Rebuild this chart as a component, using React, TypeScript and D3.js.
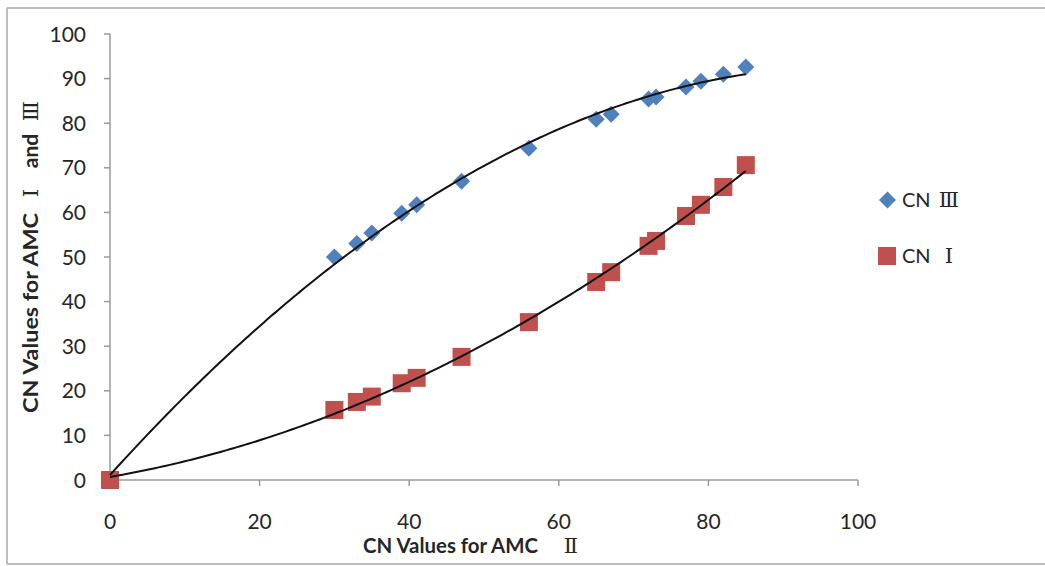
import React from "react";
import * as d3 from "d3";

const amc2 = [0, 30, 33, 35, 39, 41, 47, 56, 65, 67, 72, 73, 77, 79, 82, 85];
const cn3 = [0, 50, 53, 55.4, 59.8, 61.7, 67, 74.4, 80.9, 82, 85.4, 85.9, 88.1, 89.4, 91, 92.6];
const cn1 = [0, 15.7, 17.5, 18.7, 21.7, 22.9, 27.6, 35.4, 44.4, 46.6, 52.5, 53.6, 59.2, 61.7, 65.7, 70.6];
const xTicks = [0, 20, 40, 60, 80, 100];
const yTicks = [0, 10, 20, 30, 40, 50, 60, 70, 80, 90, 100];

function quadFit(xs: number[], ys: number[]) {
  let s0 = 0, s1 = 0, s2 = 0, s3 = 0, s4 = 0, t0 = 0, t1 = 0, t2 = 0;
  xs.forEach((x, i) => {
    const y = ys[i];
    s0 += 1; s1 += x; s2 += x * x; s3 += x ** 3; s4 += x ** 4;
    t0 += y; t1 += x * y; t2 += x * x * y;
  });
  const M = [
    [s0, s1, s2, t0],
    [s1, s2, s3, t1],
    [s2, s3, s4, t2],
  ];
  for (let i = 0; i < 3; i++) {
    for (let k = i + 1; k < 3; k++) {
      const f = M[k][i] / M[i][i];
      for (let j = i; j < 4; j++) M[k][j] -= f * M[i][j];
    }
  }
  const c = M[2][3] / M[2][2];
  const b = (M[1][3] - M[1][2] * c) / M[1][1];
  const a = (M[0][3] - M[0][1] * b - M[0][2] * c) / M[0][0];
  return (x: number) => a + b * x + c * x * x;
}

export default function App() {
  const W = 1045, H = 566;
  const x = d3.scaleLinear().domain([0, 100]).range([110, 858]);
  const y = d3.scaleLinear().domain([0, 100]).range([480, 34]);
  const f3 = quadFit(amc2, cn3);
  const f1 = quadFit(amc2, cn1);
  const xs = d3.range(0, 85.01, 0.5);
  const path3 = d3.line<number>().x((v) => x(v)).y((v) => y(f3(v)))(xs) || "";
  const path1 = d3.line<number>().x((v) => x(v)).y((v) => y(f1(v)))(xs) || "";
  const font = "Lato, 'Open Sans', sans-serif";
  const roman = "'DejaVu Serif', 'Noto Sans CJK SC', serif";
  const blue = "#4F81BD";
  const red = "#C0504D";
  const txt = "#262626";
  const diamond = (cx: number, cy: number, r: number) =>
    `M${cx},${cy - r}L${cx + r},${cy}L${cx},${cy + r}L${cx - r},${cy}Z`;

  return (
    <svg width={W} height={H} style={{ position: "absolute", left: 0, top: 0, background: "#fff" }}>
      <rect width={W} height={H} fill="#fff" />
      {/* frame */}
      <line x1={7} y1={8} x2={W} y2={8} stroke="#bdbdbd" strokeWidth={2} />
      <line x1={7} y1={8} x2={7} y2={564} stroke="#bdbdbd" strokeWidth={2} />
      <line x1={7} y1={564} x2={W} y2={564} stroke="#bdbdbd" strokeWidth={2} />

      {/* axes */}
      <line x1={x(0)} y1={y(0)} x2={x(0)} y2={y(100)} stroke="#9a9a9a" strokeWidth={1.5} />
      <line x1={x(0)} y1={y(0)} x2={x(100)} y2={y(0)} stroke="#9a9a9a" strokeWidth={1.5} />
      {yTicks.map((t) => (
        <g key={"y" + t}>
          <line x1={x(0) - 6} x2={x(0)} y1={y(t)} y2={y(t)} stroke="#9a9a9a" strokeWidth={1.5} />
          <text x={86} y={y(t)} dy="0.36em" textAnchor="end" fontFamily={font} fontSize={21} fill={txt}>
            {t}
          </text>
        </g>
      ))}
      {xTicks.map((t) => (
        <g key={"x" + t}>
          <line x1={x(t)} x2={x(t)} y1={y(0)} y2={y(0) + 6} stroke="#9a9a9a" strokeWidth={1.5} />
          <text x={x(t)} y={529} textAnchor="middle" fontFamily={font} fontSize={21} fill={txt}>
            {t}
          </text>
        </g>
      ))}

      {/* x axis title */}
      <text x={363} y={553} fontFamily={font} fontSize={21} fontWeight="bold" fill={txt} textLength={175} lengthAdjust="spacingAndGlyphs">
        CN Values for AMC
      </text>
      <text x={571} y={553} textAnchor="middle" fontFamily={roman} fontSize={21} fill={txt}>
        Ⅱ
      </text>

      {/* y axis title (rotated) */}
      <g transform="translate(38,0) rotate(-90)">
        <text x={-413} y={0} fontFamily={font} fontSize={21} fontWeight="bold" fill={txt} textLength={200} lengthAdjust="spacingAndGlyphs">
          CN Values for AMC
        </text>
        <text x={-193} y={0} textAnchor="middle" fontFamily={roman} fontSize={21} fill={txt}>
          Ⅰ
        </text>
        <text x={-151} y={0} textAnchor="middle" fontFamily={font} fontSize={21} fontWeight="bold" fill={txt}>
          and
        </text>
        <text x={-111} y={0} textAnchor="middle" fontFamily={roman} fontSize={21} fill={txt}>
          Ⅲ
        </text>
      </g>

      {/* CN III points */}
      {amc2.map((v, i) => (
        <path key={"d" + i} d={diamond(x(v), y(cn3[i]), 8.5)} fill={blue} />
      ))}
      {/* CN I points */}
      {amc2.map((v, i) => (
        <rect key={"s" + i} x={x(v) - 9} y={y(cn1[i]) - 9} width={18} height={18} fill={red} />
      ))}

      {/* trendlines */}
      <path d={path3} fill="none" stroke="#111" strokeWidth={2} />
      <path d={path1} fill="none" stroke="#111" strokeWidth={2} />

      {/* legend */}
      <path d={diamond(887.5, 200, 8.5)} fill={blue} />
      <text x={902} y={207} fontFamily={font} fontSize={20} fill={txt}>
        CN
      </text>
      <text x={949} y={207} textAnchor="middle" fontFamily={roman} fontSize={21} fill={txt}>
        Ⅲ
      </text>
      <rect x={878} y={247} width={18} height={18} fill={red} />
      <text x={902} y={263} fontFamily={font} fontSize={20} fill={txt}>
        CN
      </text>
      <text x={949} y={263} textAnchor="middle" fontFamily={roman} fontSize={21} fill={txt}>
        Ⅰ
      </text>
    </svg>
  );
}
